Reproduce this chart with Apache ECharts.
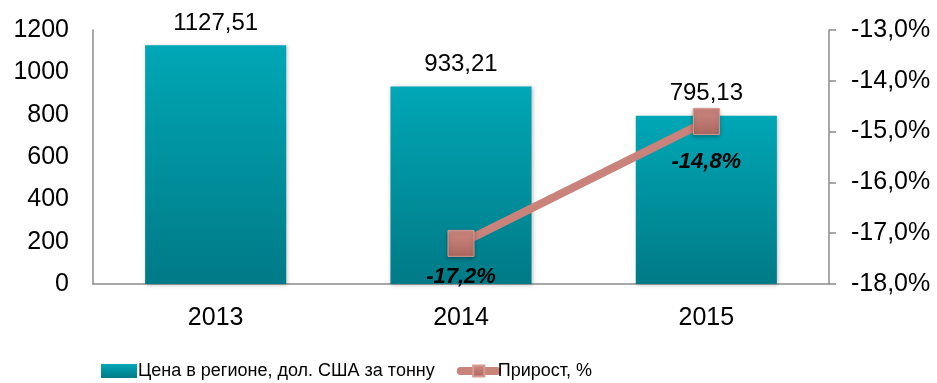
<!DOCTYPE html>
<html>
<head>
<meta charset="utf-8">
<script src="https://cdn.jsdelivr.net/npm/echarts@6/dist/echarts.min.js"></script>
<style>
  html, body { margin: 0; padding: 0; background: #fff; }
  #chart { width: 937px; height: 383px; }
</style>
</head>
<body>
<div id="chart"></div>
<script>
// Years on the category axis
const years = ['2013', '2014', '2015'];
// Regional price, USD per tonne
const prices = [1127.51, 933.21, 795.13];
// Year-over-year growth, %
const growth = [null, -17.2, -14.8];
// Series names for the legend
const priceName = 'Цена в регионе, дол. США за тонну';
const growthName = 'Прирост, %';

const FONT = '"Liberation Sans", Arial, sans-serif';
const fmtNum = v => v.toFixed(2).replace('.', ',');
const fmtPct = v => v.toFixed(1).replace('.', ',') + '%';

const chart = echarts.init(document.getElementById('chart'));
chart.setOption({
  animation: false,
  textStyle: { fontFamily: FONT },
  grid: { left: 93, right: 108, top: 30, bottom: 99 },
  legend: {
    bottom: -2,
    left: 96,
    itemGap: 22,
    itemWidth: 36,
    itemHeight: 14,
    textStyle: { fontFamily: FONT, fontSize: 18, color: '#000', padding: [0, 0, 0, -4] },
    data: [
      { name: priceName, icon: 'rect' },
      { name: growthName, lineStyle: { width: 8, cap: 'round' } }
    ]
  },
  xAxis: {
    type: 'category',
    data: years,
    axisLine: { lineStyle: { color: '#8c8c8c', width: 1.5 } },
    axisTick: { show: false },
    axisLabel: { color: '#000', fontSize: 25, fontFamily: FONT, margin: 22 }
  },
  yAxis: [
    {
      type: 'value',
      min: 0, max: 1200, interval: 200,
      axisLine: { show: true, lineStyle: { color: '#8c8c8c', width: 1.5 } },
      axisTick: { show: false },
      splitLine: { show: false },
      axisLabel: { color: '#000', fontSize: 25, fontFamily: FONT, margin: 24, formatter: v => String(v) }
    },
    {
      type: 'value',
      min: -18, max: -13, interval: 1,
      position: 'right',
      axisLine: { show: true, lineStyle: { color: '#8c8c8c', width: 1.5 } },
      axisTick: { show: true, length: 7, inside: false, lineStyle: { color: '#8c8c8c', width: 1.5 } },
      splitLine: { show: false },
      axisLabel: { color: '#000', fontSize: 25, fontFamily: FONT, margin: 22, formatter: v => fmtPct(v) }
    }
  ],
  series: [
    {
      name: priceName,
      type: 'bar',
      yAxisIndex: 0,
      barWidth: '57.5%',
      data: prices,
      itemStyle: {
        color: new echarts.graphic.LinearGradient(0, 0, 0, 1, [
          { offset: 0, color: '#00a7b6' },
          { offset: 1, color: '#007a86' }
        ]),
        shadowColor: 'rgba(0,0,0,0.25)',
        shadowBlur: 4,
        shadowOffsetX: 1,
        shadowOffsetY: 1
      },
      label: {
        show: true,
        position: 'top',
        distance: 10,
        color: '#000',
        fontSize: 24,
        fontFamily: FONT,
        formatter: p => fmtNum(p.value)
      }
    },
    {
      name: growthName,
      type: 'line',
      yAxisIndex: 1,
      data: growth.map((v, i) => ({
        value: v,
        label: { offset: [0, i === 1 ? -5 : 2] }
      })),
      symbol: 'rect',
      symbolSize: 26,
      lineStyle: { color: '#c9837b', width: 8 },
      itemStyle: {
        color: new echarts.graphic.LinearGradient(0, 0, 0, 1, [
          { offset: 0, color: '#cf8a82' },
          { offset: 1, color: '#a9665f' }
        ]),
        borderColor: '#d79a93',
        borderWidth: 1,
        shadowColor: 'rgba(0,0,0,0.3)',
        shadowBlur: 4,
        shadowOffsetY: 2
      },
      label: {
        show: true,
        position: 'bottom',
        distance: 14,
        color: '#000',
        fontSize: 22,
        fontWeight: 'bold',
        fontStyle: 'italic',
        fontFamily: FONT,
        formatter: p => fmtPct(p.value)
      }
    }
  ]
});
</script>
</body>
</html>
